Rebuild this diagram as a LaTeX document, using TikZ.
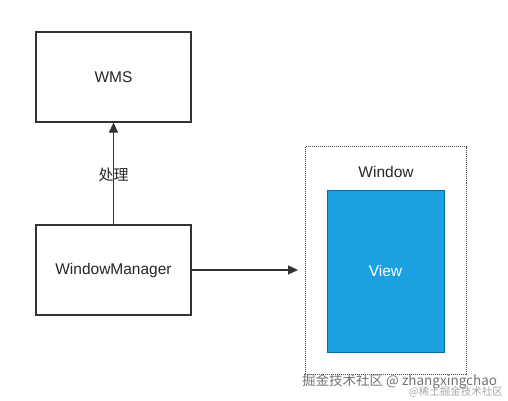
\documentclass[tikz,border=0pt]{standalone}
\usepackage{fontspec}
\setmainfont{Liberation Sans}
\newfontfamily\cjk{Noto Sans CJK SC}
\usetikzlibrary{arrows.meta}
\definecolor{viewfill}{HTML}{1BA1E2}
\definecolor{viewdraw}{HTML}{006EAF}
\definecolor{linecol}{HTML}{333333}
\tikzset{
  box/.style={draw=linecol, line width=1.2pt, fill=white, minimum width=155pt, minimum height=90pt, font=\fontsize{15.5}{18}\selectfont, text=black!85},
  conn/.style={draw=linecol, line width=1.2pt, -{Triangle[length=10pt,width=9pt]}},
  winbox/.style={draw=black!70, line width=1pt, dash pattern=on 1pt off 1pt, minimum width=161pt, minimum height=228pt},
  viewbox/.style={draw=viewdraw, line width=1pt, fill=viewfill, minimum width=117pt, minimum height=162pt, text=white, font=\fontsize{15.5}{18}\selectfont},
  wm/.style={text=black!55, inner sep=0pt}
}
\begin{document}
\begin{tikzpicture}[x=1pt,y=-1pt]
\useasboundingbox (0,0) rectangle (508,401);
\node[box] (wms) at (113.5,77) {WMS};
\node[box] (mgr) at (113.5,270) {WindowManager};
\node[winbox] (win) at (385.5,260.5) {};
\node[font=\fontsize{15.5}{18}\selectfont, text=black!85] (winlbl) at (386,172) {Window};
\node[viewbox] (view) at (385.5,271) {View};
\coordinate (arrend) at (298,270);
\draw[conn] (mgr) -- (wms);
\node[font=\cjk\fontsize{15}{17}\selectfont, text=black!85] (lbl) at (113.5,175) {处理};
\draw[conn] (mgr.east) -- (arrend);
\node[wm, font=\cjk\fontsize{13.5}{15}\selectfont, anchor=west] (wm1) at (302,381) {掘金技术社区 @ zhangxingchao};
\node[wm, text=black!35, font=\cjk\fontsize{10.5}{12}\selectfont, anchor=east] (wm2) at (503,392) {@稀土掘金技术社区};
\end{tikzpicture}
\end{document}
